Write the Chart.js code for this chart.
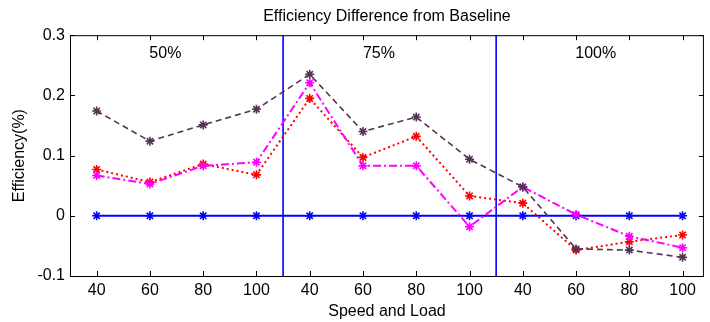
<!DOCTYPE html>
<html>
<head>
    <title>Efficiency Difference from Baseline</title>
    <script src="https://cdn.jsdelivr.net/npm/chart.js@4/dist/chart.umd.min.js"></script>
    <style>
        body { margin: 0; background: #fff; }
    </style>
</head>
<body>
    <canvas id="effChart" width="710" height="322"></canvas>

    <script>
        // speed labels, repeated for each load group
        const speedLabels = ['40', '60', '80', '100', '40', '60', '80', '100', '40', '60', '80', '100'];
        const loadGroups = ['50%', '75%', '100%'];
        const groupLabelX = [2.29, 6.3, 10.37];
        const groupLabelY = 0.27;
        const dividerX = [4.5, 8.5];
        const yTicks = [0.3, 0.2, 0.1, 0, -0.1];

        const baseline = [0, 0, 0, 0, 0, 0, 0, 0, 0, 0, 0, 0];
        const seriesPurple = [0.174, 0.124, 0.151, 0.177, 0.235, 0.140, 0.164, 0.094, 0.048, -0.055, -0.057, -0.069];
        const seriesRed = [0.077, 0.056, 0.086, 0.068, 0.195, 0.097, 0.132, 0.033, 0.021, -0.057, -0.043, -0.032];
        const seriesMagenta = [0.067, 0.053, 0.083, 0.089, 0.221, 0.083, 0.083, -0.018, 0.048, 0.002, -0.034, -0.053];

        const font = 'Liberation Sans, Arial, sans-serif';
        const toPoints = arr => arr.map((v, i) => ({ x: i + 1, y: v }));

        function lineSet(data, color, dash, width, order) {
            return {
                data: toPoints(data),
                borderColor: color,
                backgroundColor: color,
                borderWidth: width,
                borderDash: dash,
                pointStyle: 'star',
                pointRadius: 4.5,
                pointBorderWidth: 1.6,
                pointBorderColor: color,
                fill: false,
                tension: 0,
                order: order
            };
        }

        const dividerSets = dividerX.map(x => ({
            data: [{ x: x, y: -0.1 }, { x: x, y: 0.3 }],
            borderColor: '#0000ff',
            borderWidth: 1.6,
            pointRadius: 0,
            fill: false,
            order: 5
        }));

        // frame, inward ticks and group labels
        const framePlugin = {
            id: 'frame',
            afterDatasetsDraw(chart) {
                const { ctx, chartArea: a, scales: { x, y } } = chart;
                ctx.save();
                ctx.strokeStyle = '#000';
                ctx.lineWidth = 1;
                ctx.strokeRect(a.left + 0.5, a.top + 0.5, a.right - a.left - 1, a.bottom - a.top);
                ctx.beginPath();
                speedLabels.forEach((_, i) => {
                    const px = Math.round(x.getPixelForValue(i + 1)) + 0.5;
                    ctx.moveTo(px, a.top); ctx.lineTo(px, a.top + 5);
                    ctx.moveTo(px, a.bottom); ctx.lineTo(px, a.bottom - 5);
                });
                yTicks.forEach(v => {
                    const py = Math.round(y.getPixelForValue(v)) + 0.5;
                    ctx.moveTo(a.left, py); ctx.lineTo(a.left + 5, py);
                    ctx.moveTo(a.right, py); ctx.lineTo(a.right - 5, py);
                });
                ctx.stroke();
                ctx.fillStyle = '#000';
                ctx.font = '16px ' + font;
                ctx.textAlign = 'center';
                ctx.textBaseline = 'middle';
                loadGroups.forEach((t, i) => {
                    ctx.fillText(t, x.getPixelForValue(groupLabelX[i]), y.getPixelForValue(groupLabelY));
                });
                ctx.restore();
            }
        };

        const ctx = document.getElementById('effChart').getContext('2d');
        new Chart(ctx, {
            type: 'line',
            data: {
                datasets: [
                    lineSet(seriesPurple, '#553355', [6, 4], 1.6, 0),
                    lineSet(seriesMagenta, '#ff00ff', [8, 3, 2, 3], 2, 1),
                    lineSet(seriesRed, '#ff0000', [2, 3], 2, 2),
                    lineSet(baseline, '#0000ff', [], 2, 3),
                    ...dividerSets
                ]
            },
            options: {
                responsive: false,
                animation: false,
                layout: { padding: { left: 0, right: 4, top: 0, bottom: 0 } },
                plugins: {
                    legend: { display: false },
                    tooltip: { enabled: false },
                    title: {
                        display: true,
                        text: 'Efficiency Difference from Baseline',
                        color: '#000',
                        fullSize: false,
                        font: { family: font, size: 16, weight: 'normal' },
                        padding: { top: 7, bottom: 9 }
                    }
                },
                scales: {
                    x: {
                        type: 'linear',
                        min: 0.5,
                        max: 12.4,
                        grid: { display: false, drawTicks: false },
                        border: { display: false },
                        afterBuildTicks: s => { s.ticks = speedLabels.map((_, i) => ({ value: i + 1 })); },
                        afterFit: s => { s.height = 46; },
                        ticks: {
                            autoSkip: false,
                            maxRotation: 0,
                            padding: 5,
                            color: '#000',
                            font: { family: font, size: 16 },
                            callback: v => speedLabels[Math.round(v) - 1]
                        },
                        title: {
                            display: true,
                            text: 'Speed and Load',
                            color: '#000',
                            font: { family: font, size: 16 },
                            padding: { top: 0, bottom: 1 }
                        }
                    },
                    y: {
                        min: -0.1,
                        max: 0.3,
                        grid: { display: false, drawTicks: false },
                        border: { display: false },
                        afterBuildTicks: s => { s.ticks = yTicks.map(v => ({ value: v })); },
                        afterFit: s => { s.width = 70; },
                        ticks: {
                            padding: 5,
                            color: '#000',
                            font: { family: font, size: 16 },
                            callback: v => String(Math.round(v * 10) / 10)
                        },
                        title: {
                            display: true,
                            text: 'Efficiency(%)',
                            color: '#000',
                            font: { family: font, size: 16 },
                            padding: { top: 10, bottom: 0 }
                        }
                    }
                }
            },
            plugins: [framePlugin]
        });
    </script>
</body>
</html>
